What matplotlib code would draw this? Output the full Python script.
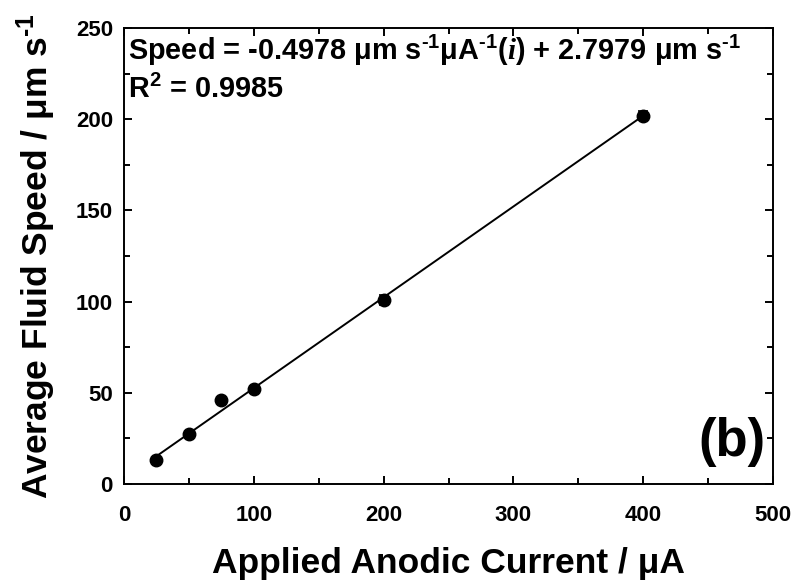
import matplotlib
matplotlib.use("Agg")
import matplotlib.pyplot as plt
import numpy as np
from matplotlib.ticker import MultipleLocator

plt.rcParams['font.family'] = ['Liberation Sans', 'DejaVu Sans']
plt.rcParams['font.weight'] = 'bold'
plt.rcParams['mathtext.fontset'] = 'custom'
plt.rcParams['mathtext.rm'] = 'Liberation Sans:bold'
plt.rcParams['mathtext.it'] = 'Liberation Serif:bold:italic'
plt.rcParams['mathtext.bf'] = 'Liberation Sans:bold'
plt.rcParams['mathtext.default'] = 'rm'

current = [25, 50, 75, 100, 200, 400]
speed = [13.1, 27.4, 45.8, 52.3, 100.9, 202.0]
speed_err = [1.0, 1.0, 1.2, 1.3, 2.5, 2.5]
slope = 0.4978
intercept = 2.7979

fig = plt.figure(figsize=(7.96, 5.84), dpi=100)
ax = fig.add_axes([124/796, 1-484/584, (773-124)/796, (484-28)/584])

xfit = np.array([min(current), max(current)])
ax.plot(xfit, slope*xfit + intercept, color='black', lw=1.4, zorder=2)
ax.errorbar(current, speed, yerr=speed_err, fmt='o', color='black', ms=9,
            capsize=3.5, elinewidth=1.2, capthick=1.2, zorder=3)

ax.set_xlim(0, 500)
ax.set_ylim(0, 250)
ax.xaxis.set_major_locator(MultipleLocator(100))
ax.xaxis.set_minor_locator(MultipleLocator(50))
ax.yaxis.set_major_locator(MultipleLocator(50))
ax.yaxis.set_minor_locator(MultipleLocator(25))
ax.tick_params(which='both', direction='in', top=True, right=True, labelsize=16, width=1.4)
ax.tick_params(axis='x', which='both', pad=15)
ax.tick_params(axis='y', which='both', pad=8)
ax.tick_params(which='major', length=6)
ax.tick_params(which='minor', length=4)
for s in ax.spines.values():
    s.set_linewidth(1.4)

ax.set_xlabel('Applied Anodic Current / \u03bcA', fontsize=25.5, fontweight='bold', labelpad=15)
ax.set_ylabel('Average Fluid Speed / \u03bcm s$^{\\text{-1}}$', fontsize=25.5, fontweight='bold', labelpad=13)

ax.text(0.006, 0.930, 'Speed = -0.4978 \u03bcm s$^{\\text{-1}}$\u03bcA$^{\\text{-1}}$($\\mathit{i}$) + 2.7979 \u03bcm s$^{\\text{-1}}$',
        transform=ax.transAxes, fontsize=20.8, fontweight='bold', va='baseline', ha='left')
ax.text(0.006, 0.846, 'R$^{2}$ = 0.9985',
        transform=ax.transAxes, fontsize=20.8, fontweight='bold', va='baseline', ha='left')
ax.text(0.988, 0.061, '(b)', transform=ax.transAxes, fontsize=38, fontweight='bold',
        va='baseline', ha='right')

fig.savefig('out.png', dpi=100)
